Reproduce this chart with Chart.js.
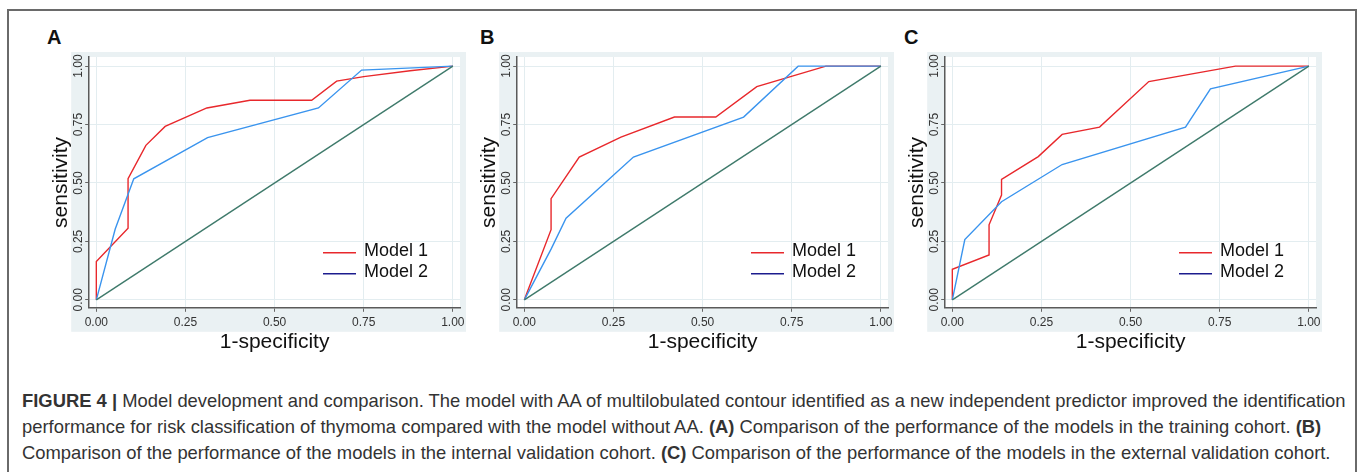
<!DOCTYPE html>
<html>
<head>
<meta charset="utf-8">
<title>Figure 4</title>
<script src="https://cdn.jsdelivr.net/npm/chart.js@4.4.0/dist/chart.umd.min.js"></script>
<style>
  body { margin: 0; background: #fff; font-family: "Liberation Sans", Arial, sans-serif; }
  #frame { position: absolute; left: 7px; top: 9px; width: 1346px; height: 500px; border: 2px solid #6a6a6a; border-bottom: none; }
  .panel { position: absolute; top: 20px; width: 430px; height: 345px; }
  .tag { position: absolute; top: 27px; font: bold 20px/20px "Liberation Sans", Arial, sans-serif; color: #111; }
  #caption { position: absolute; left: 22px; top: 388px; font-size: 18.4px; line-height: 26px; color: #333; white-space: nowrap; }
</style>
</head>
<body>
<div id="frame"></div>
<div class="tag" style="left:47px">A</div>
<div class="tag" style="left:480px">B</div>
<div class="tag" style="left:904px">C</div>
<div class="panel" style="left:40px"><canvas id="chartA" width="430" height="345"></canvas></div>
<div class="panel" style="left:468px"><canvas id="chartB" width="430" height="345"></canvas></div>
<div class="panel" style="left:896px"><canvas id="chartC" width="430" height="345"></canvas></div>
<div id="caption"><b>FIGURE 4 |</b> Model development and comparison. The model with AA of multilobulated contour identified as a new independent predictor improved the identification<br>performance for risk classification of thymoma compared with the model without AA. <b>(A)</b> Comparison of the performance of the models in the training cohort. <b>(B)</b><br>Comparison of the performance of the models in the internal validation cohort. <b>(C)</b> Comparison of the performance of the models in the external validation cohort.</div>

<script>
// axis ticks shared by all three panels
const tickVals = [0, 0.25, 0.5, 0.75, 1];
const tickLabels = ['0.00', '0.25', '0.50', '0.75', '1.00'];
const seriesNames = ['Model 1', 'Model 2'];

// reference (chance) line
const chanceX = [0, 1];
const chanceY = [0, 1];

// A: training cohort
const aModel1X = [0, 0, 0.089, 0.089, 0.139, 0.193, 0.31, 0.431, 0.604, 0.674, 0.75, 0.88, 1];
const aModel1Y = [0, 0.164, 0.306, 0.518, 0.661, 0.742, 0.821, 0.854, 0.854, 0.936, 0.955, 0.98, 1];
const aModel2X = [0, 0.053, 0.105, 0.312, 0.623, 0.744, 1];
const aModel2Y = [0, 0.303, 0.518, 0.694, 0.821, 0.983, 1];

// B: internal validation cohort
const bModel1X = [0, 0.075, 0.075, 0.154, 0.271, 0.421, 0.537, 0.652, 0.846, 1];
const bModel1Y = [0, 0.30, 0.433, 0.611, 0.696, 0.782, 0.782, 0.912, 1, 1];
const bModel2X = [0, 0.075, 0.117, 0.306, 0.615, 0.768, 1];
const bModel2Y = [0, 0.217, 0.349, 0.611, 0.782, 1, 1];

// C: external validation cohort
const cModel1X = [0, 0, 0.103, 0.103, 0.138, 0.138, 0.241, 0.308, 0.413, 0.551, 0.794, 1];
const cModel1Y = [0, 0.131, 0.192, 0.321, 0.448, 0.515, 0.613, 0.708, 0.739, 0.934, 1, 1];
const cModel2X = [0, 0.035, 0.138, 0.308, 0.654, 0.724, 1];
const cModel2Y = [0, 0.258, 0.420, 0.579, 0.739, 0.903, 1];

const FONT = '"Liberation Sans", Arial, sans-serif';
const red = '#e8282c';
const blue = '#3a94ee';
const navy = '#1c1c8e';
const green = '#3f7a6b';

function toPoints(xs, ys) {
    return xs.map((x, i) => ({ x: x, y: ys[i] }));
}

// stata-like grey plot region behind the white plot area
const backdrop = {
    id: 'backdrop',
    beforeDraw(chart) {
        const { ctx, chartArea: a } = chart;
        ctx.save();
        ctx.fillStyle = '#eaf1f3';
        ctx.fillRect(a.left - 18, a.top - 5, a.right - a.left + 24, a.bottom - a.top + 29);
        ctx.fillStyle = '#fff';
        ctx.fillRect(a.left, a.top, a.right - a.left, a.bottom - a.top);
        ctx.restore();
    }
};

// tick labels (y ones are rotated like the original)
const tickText = {
    id: 'tickText',
    afterDraw(chart) {
        const { ctx, chartArea: a, scales } = chart;
        ctx.save();
        ctx.font = '12px ' + FONT;
        ctx.fillStyle = '#333';
        ctx.textAlign = 'center';
        ctx.textBaseline = 'middle';
        tickVals.forEach((v, i) => {
            ctx.fillText(tickLabels[i], scales.x.getPixelForValue(v), a.bottom + 15);
            ctx.save();
            ctx.translate(a.left - 10.5, scales.y.getPixelForValue(v));
            ctx.rotate(-Math.PI / 2);
            ctx.fillText(tickLabels[i], 0, 0);
            ctx.restore();
        });
        ctx.restore();
    }
};

// legend inside the plot, bottom right
const innerLegend = {
    id: 'innerLegend',
    afterDraw(chart) {
        const { ctx, chartArea: a } = chart;
        const items = chart.data.datasets.filter(d => d.legendColor)
            .sort((p, q) => seriesNames.indexOf(p.label) - seriesNames.indexOf(q.label));
        ctx.save();
        ctx.font = '18px ' + FONT;
        ctx.textBaseline = 'middle';
        ctx.fillStyle = '#111';
        items.forEach((d, i) => {
            const y = a.bottom - 57 + i * 21;
            ctx.strokeStyle = d.legendColor;
            ctx.lineWidth = 1.4;
            ctx.beginPath();
            ctx.moveTo(a.right - 137, y + 2);
            ctx.lineTo(a.right - 104, y + 2);
            ctx.stroke();
            ctx.fillText(d.label, a.right - 96, y);
        });
        ctx.restore();
    }
};

function makeChart(id, m1x, m1y, m2x, m2y) {
    const ctx = document.getElementById(id).getContext('2d');
    return new Chart(ctx, {
        type: 'scatter',
        data: {
            datasets: [
                { data: toPoints(chanceX, chanceY), borderColor: green },
                { label: seriesNames[1], data: toPoints(m2x, m2y), borderColor: blue, legendColor: navy },
                { label: seriesNames[0], data: toPoints(m1x, m1y), borderColor: red, legendColor: red }
            ].map(d => Object.assign(d, { showLine: true, pointRadius: 0, borderWidth: 1.4, tension: 0 }))
        },
        options: {
            responsive: false,
            animation: false,
            devicePixelRatio: 1,
            layout: { padding: { left: 0, top: 37, right: 10, bottom: 10 } },
            plugins: {
                legend: { display: false },
                tooltip: { enabled: false }
            },
            scales: {
                x: {
                    type: 'linear',
                    min: -0.02,
                    max: 1.02,
                    afterBuildTicks: s => { s.ticks = tickVals.map(v => ({ value: v })); },
                    ticks: { display: false },
                    grid: { color: '#e3edf0', lineWidth: 1, tickColor: '#666', tickLength: 4 },
                    border: { color: '#5a5a5a', width: 1.5 },
                    title: { display: true, text: '1-specificity', color: '#111', font: { family: FONT, size: 21 }, padding: { top: 18, bottom: 0 } }
                },
                y: {
                    type: 'linear',
                    min: -0.034,
                    max: 1.039,
                    afterBuildTicks: s => { s.ticks = tickVals.map(v => ({ value: v })); },
                    ticks: { display: false },
                    grid: { color: '#e3edf0', lineWidth: 1, tickColor: '#666', tickLength: 4 },
                    border: { color: '#5a5a5a', width: 1.5 },
                    title: { display: true, text: 'sensitivity', color: '#111', font: { family: FONT, size: 21 }, padding: { top: 9, bottom: 11 } }
                }
            }
        },
        plugins: [backdrop, tickText, innerLegend]
    });
}

makeChart('chartA', aModel1X, aModel1Y, aModel2X, aModel2Y);
makeChart('chartB', bModel1X, bModel1Y, bModel2X, bModel2Y);
makeChart('chartC', cModel1X, cModel1Y, cModel2X, cModel2Y);
</script>
</body>
</html>
